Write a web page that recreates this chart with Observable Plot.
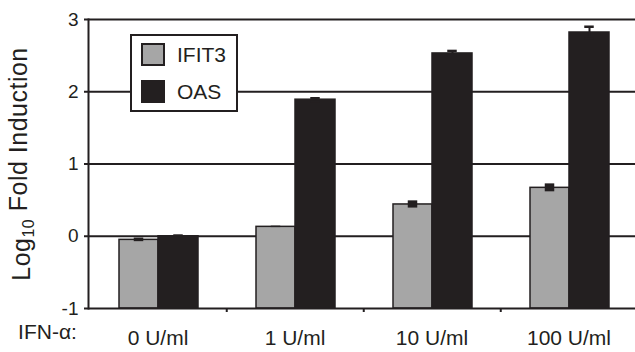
<!DOCTYPE html>
<html><head><meta charset="utf-8">
<script src="https://cdn.jsdelivr.net/npm/d3@7"></script>
<script src="https://cdn.jsdelivr.net/npm/@observablehq/plot@0.6"></script>
<style>
html,body{margin:0;padding:0;background:#fff;overflow:hidden}
#wrap{position:relative;width:635px;height:352px}
#legend{position:absolute;left:130px;top:34px;width:104px;height:74px;border:2px solid #231f20;background:#fff;
  font-family:"Liberation Sans",Arial,sans-serif;font-size:21px;color:#231f20}
#legend .row{display:flex;align-items:center;height:37px}
#legend .sw{width:20px;height:19px;border:2px solid #231f20;margin-left:9px;margin-right:12px}
</style></head><body><div id="wrap"></div>
<script>
const doses = ["0 U/ml", "1 U/ml", "10 U/ml", "100 U/ml"];
const seriesNames = ["IFIT3", "OAS"];
const ifit3 = [-0.05, 0.13, 0.44, 0.67];
const ifit3Err = [0.025, 0.01, 0.05, 0.055];
const oas = [0.0, 1.89, 2.53, 2.82];
const oasErr = [0.01, 0.02, 0.035, 0.08];
const seriesColors = ["#a6a6a6", "#231f20"];
const yTicks = [-1, 0, 1, 2, 3];
const gridValues = [0, 1, 2, 3];
const xPrefix = "IFN-α:";
const yLabelParts = ["Log", "10", " Fold Induction"];

const ink = "#231f20";
const ifitData = doses.map((d, i) => ({dose: d, value: ifit3[i], lo: ifit3[i] - ifit3Err[i], hi: ifit3[i] + ifit3Err[i]}));
const oasData = doses.map((d, i) => ({dose: d, value: oas[i], lo: oas[i] - oasErr[i], hi: oas[i] + oasErr[i]}));
const yLabel = yLabelParts.join("");

const chart = Plot.plot({
  width: 635, height: 352,
  marginLeft: 88, marginRight: -3, marginTop: 19, marginBottom: 44,
  style: {fontFamily: "Liberation Sans, Arial, sans-serif", fontSize: "20px", color: ink, background: "white"},
  x: {domain: doses, padding: 0, label: null},
  y: {domain: [-1, 3], label: null},
  marks: [
    Plot.ruleY(gridValues, {stroke: ink, strokeWidth: 2}),
    Plot.barY(ifitData, {x: "dose", y1: -1, y2: "value", fill: seriesColors[0], stroke: ink, strokeWidth: 1.5, insetLeft: 30, insetRight: 68}),
    Plot.barY(oasData, {x: "dose", y1: -1, y2: "value", fill: seriesColors[1], stroke: ink, strokeWidth: 1.5, insetLeft: 69, insetRight: 28}),
    Plot.rectY(ifitData, {x: "dose", y1: "lo", y2: "hi", fill: ink, insetLeft: 44.75, insetRight: 82.75}),
    Plot.ruleX(oasData, {x: "dose", y1: "lo", y2: "hi", dx: 20.5, stroke: ink, strokeWidth: 2}),
    Plot.tickY(oasData, {x: "dose", y: "lo", insetLeft: 84.25, insetRight: 43.25, stroke: ink, strokeWidth: 2}),
    Plot.tickY(oasData, {x: "dose", y: "hi", insetLeft: 84.25, insetRight: 43.25, stroke: ink, strokeWidth: 2.5}),
    Plot.ruleY([-1], {stroke: ink, strokeWidth: 2}),
    Plot.frame({anchor: "left", stroke: ink, strokeWidth: 2}),
    Plot.axisY({ticks: yTicks, tickSize: 4, tickPadding: 6, fontSize: 19, stroke: ink, strokeWidth: 2, tickFormat: d => String(d)}),
    Plot.axisX({tickSize: 0, tickPadding: 22, fontSize: 21}),
    Plot.axisX(doses.slice(0, 3), {tickSize: 4, dx: 68.75, tickFormat: () => "", stroke: ink, strokeWidth: 2}),
    Plot.text([yLabel], {frameAnchor: "left", textAnchor: "middle", dx: -67, rotate: -90, fontSize: 25, fill: ink, className: "ylab"}),
    Plot.text([xPrefix], {frameAnchor: "bottom-left", textAnchor: "middle", dx: -41, dy: 30, fontSize: 21, fill: ink})
  ]
});

// render the "10" as a true subscript
d3.select(chart).selectAll("text").filter(function() { return this.textContent === yLabel; }).each(function() {
  const t = d3.select(this);
  t.text(null).style("letter-spacing", "0.5px");
  t.append("tspan").text(yLabelParts[0]);
  t.append("tspan").text(yLabelParts[1]).attr("font-size", 16).attr("dy", "0.3em");
  t.append("tspan").text(yLabelParts[2]).attr("dy", "-0.3em");
});

const wrap = document.getElementById("wrap");
wrap.appendChild(chart);
const legend = document.createElement("div");
legend.id = "legend";
seriesNames.forEach((name, i) => {
  const row = document.createElement("div");
  row.className = "row";
  const sw = document.createElement("div");
  sw.className = "sw";
  sw.style.background = seriesColors[i];
  const lab = document.createElement("span");
  lab.textContent = name;
  row.appendChild(sw);
  row.appendChild(lab);
  legend.appendChild(row);
});
wrap.appendChild(legend);
</script>
</body></html>
